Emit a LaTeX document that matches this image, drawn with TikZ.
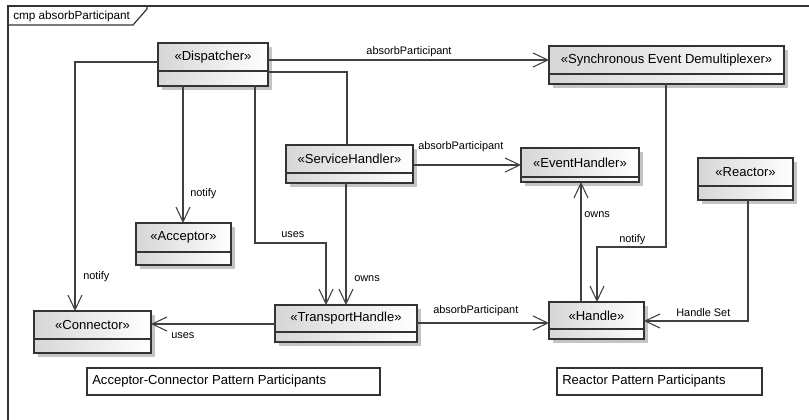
\documentclass[tikz,border=0pt]{standalone}
\usepackage{fontspec}
\setmainfont{Liberation Sans}
\usetikzlibrary{arrows.meta,fit}
\definecolor{linec}{HTML}{404040}
\definecolor{boxc}{HTML}{333333}
\definecolor{shadowc}{HTML}{C4C4C4}
\tikzset{
  classbox/.style={draw=boxc, line width=1pt, left color=black!16, right color=white, inner sep=0pt, outer sep=0pt},
  divline/.style={draw=boxc, line width=1pt},
  nametext/.style={font=\fontsize{9.8}{11}\selectfont, inner sep=0pt},
  lbl/.style={font=\fontsize{8.2}{9}\selectfont, inner sep=0pt, anchor=west},
  conn/.style={draw=linec, line width=0.8pt},
  arr/.style={conn, -{Straight Barb[length=11pt,width=10.5pt]}},
  notebox/.style={draw=boxc, line width=0.9pt},
  notetext/.style={font=\fontsize{9.8}{11}\selectfont, inner sep=0pt, anchor=west},
}
\newcommand\umlclass[7]{%
  \fill[shadowc] ({#2+4},{#3+4}) rectangle ({#4+4},{#5+4});
  \node[classbox, fit={(#2,#3) (#4,#5)}] (#1) {};
  \draw[divline] (#2,#6) -- (#4,#6);
  \node[nametext] at ({(#2+#4)/2},{(#3+#6)/2}) {#7};
}
\begin{document}
\begin{tikzpicture}[x=0.75pt,y=-0.75pt]
\useasboundingbox (0,0) rectangle (809,419);
\fill[white] (0,0) rectangle (809,419);
% frame
\draw[boxc, line width=0.9pt] (8,425) -- (8,6) -- (815,6);
\draw[boxc, line width=0.9pt] (8,25) -- (133,25) -- (147,9) -- (147,6);
\node[font=\fontsize{8.8}{10}\selectfont, inner sep=0pt, anchor=west] (ftitle) at (13,16) {cmp absorbParticipant};

% classes
\umlclass{disp}{158}{43}{268}{86}{71}{«Dispatcher»}
\umlclass{sed}{549}{46}{784}{84}{74}{«Synchronous Event Demultiplexer»}
\umlclass{evh}{521}{148}{639}{182}{177}{«EventHandler»}
\umlclass{react}{698}{158}{793}{200}{186}{«Reactor»}
\umlclass{svc}{286}{145}{413}{183}{173}{«ServiceHandler»}
\umlclass{acc}{136}{223}{231}{265}{252}{«Acceptor»}
\umlclass{trans}{275}{305}{417}{342}{332}{«TransportHandle»}
\umlclass{connr}{34}{311}{151}{353}{339}{«Connector»}
\umlclass{hand}{549}{302}{644}{339}{329}{«Handle»}

% notes
\node[notebox, fit={(87,368) (380,395)}, inner sep=0pt] (acnote) {};
\node[notetext] at (92,381.5) {Acceptor-Connector Pattern Participants};
\node[notebox, fit={(557,368) (762,395)}, inner sep=0pt] (rnote) {};
\node[notetext] at (562,381.5) {Reactor Pattern Participants};

% connectors
\draw[arr] (disp.east |- 0,60) -- (sed.west |- 0,60);
\node[lbl, anchor=center] at (409,52) {absorbParticipant};

\draw[conn] (disp.east |- 0,72) -| (svc.north -| 347,0);

\draw[arr] (disp.west |- 0,62) -| (connr.north -| 75,0);
\node[lbl] at (83,277) {notify};

\draw[arr] (disp.south -| 183,0) -- (acc.north -| 183,0);
\node[lbl] at (190,194) {notify};

\draw[arr] (disp.south -| 255,0) -- (255,243) -- (326,243) -- (trans.north -| 326,0);
\node[lbl] at (281,235) {uses};

\draw[arr] (svc.south -| 346,0) -- (trans.north -| 346,0);
\node[lbl] at (354,279) {owns};

\draw[arr] (svc.east |- 0,165) -- (evh.west |- 0,165);
\node[lbl] at (418,147) {absorbParticipant};

\draw[arr] (hand.north -| 581,0) -- (evh.south -| 581,0);
\node[lbl] at (584,215) {owns};

\draw[arr] (sed.south -| 666,0) -- (666,247) -- (597,247) -- (hand.north -| 597,0);
\node[lbl] at (619,240) {notify};

\draw[arr] (react.south -| 748,0) -- (748,321) -- (hand.east |- 0,321);
\node[lbl] at (676,313) {Handle Set};

\draw[arr] (trans.west |- 0,324) -- (connr.east |- 0,324);
\node[lbl] at (171,336) {uses};

\draw[arr] (trans.east |- 0,323) -- (hand.west |- 0,323);
\node[lbl] at (433,311) {absorbParticipant};
\end{tikzpicture}
\end{document}
